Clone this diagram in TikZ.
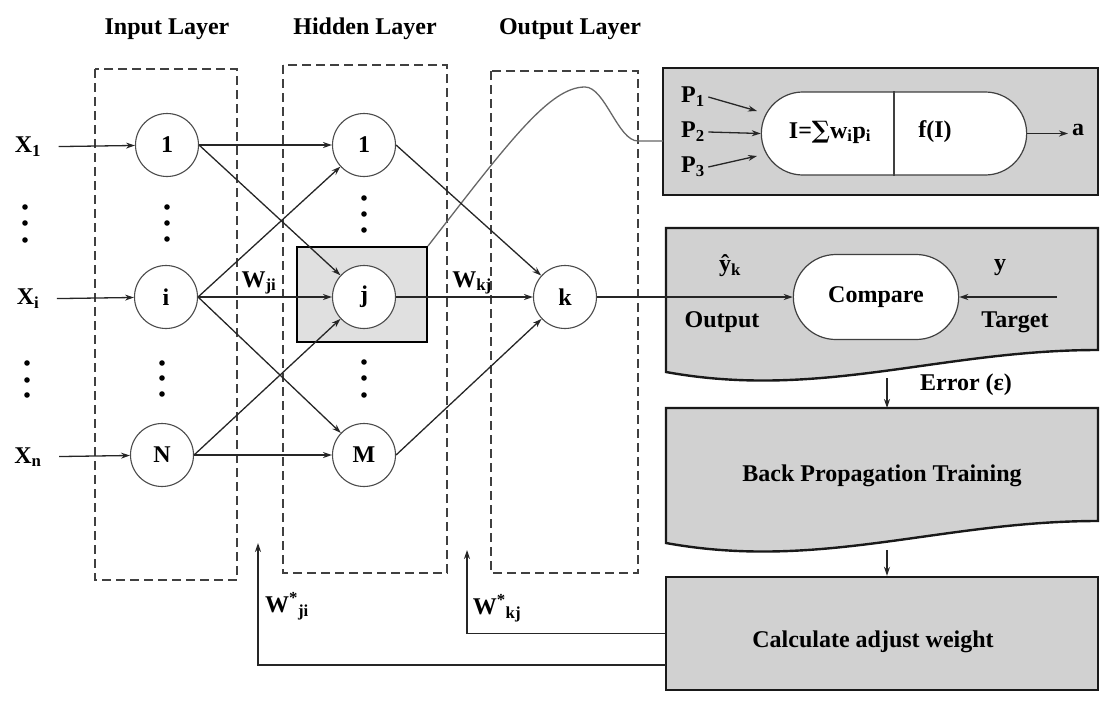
\documentclass[tikz,border=0pt]{standalone}
\usepackage{fontspec}
\setmainfont{Liberation Serif}
\newfontfamily\symfont{DejaVu Serif}
\usetikzlibrary{arrows.meta,shapes.misc,calc}

\begin{document}
\begin{tikzpicture}[x=1pt, y=-1pt, >={Stealth[length=9pt,width=6pt]},
                    every node/.style={font=\fontsize{24}{28}\selectfont\bfseries},
                    wire/.style={black!85, line width=1.3pt},
                    layer/.style={draw=black!75, line width=1.4pt, dash pattern=on 9pt off 5pt},
                    neuron/.style={circle, draw=black!70, fill=white, line width=1.1pt, minimum size=63pt, inner sep=0pt},
                    graybox/.style={draw=black!90, fill=black!18, line width=2.4pt},
                    capsule/.style={rounded rectangle, draw=black!75, fill=white, line width=1.2pt}]

\useasboundingbox (0,0) rectangle (1100,702);

\node[anchor=base] (hin) at (167,34) {Input Layer};
\node[anchor=base] (hhid) at (365,34) {Hidden Layer};
\node[anchor=base] (hout) at (570,34) {Output Layer};

\draw[layer] (95,69) rectangle (237,580);
\draw[layer] (283,65) rectangle (447,573);
\draw[layer] (491,71) rectangle (638,573);

\node[graybox, minimum width=435pt, minimum height=127pt] (nbox) at (880.5,131.5) {};
\draw[graybox] (666,228) -- (1098,228) -- (1098,350) .. controls (940,350) and (820,400) .. (666,372) -- cycle;
\draw[graybox] (666,408) -- (1098,408) -- (1098,521) .. controls (940,521) and (820,571) .. (666,543) -- cycle;
\node[graybox, minimum width=432pt, minimum height=113pt] (calc) at (882,633.5) {};
\node[draw=black, fill=black!12, line width=2pt, minimum width=130pt, minimum height=95pt] (jbox) at (362,294.5) {};

\node (x1) at (28,147) {X\textsubscript{1}};
\node (xi) at (28,299) {X\textsubscript{i}};
\node (xn) at (28,457) {X\textsubscript{n}};

\node[neuron] (in1) at (167,145) {1};
\node[neuron] (ini) at (166,297) {i};
\node[neuron] (inN) at (162,455) {N};
\node[neuron] (h1) at (364,145) {1};
\node[neuron] (hj) at (364,297) {j};
\node[neuron] (hM) at (364,455) {M};
\node[neuron] (k) at (565,297) {k};

\foreach \x/\y in {25/207, 25/223, 25/240, 27/363, 27/380, 27/395,
                   167/207, 167/223, 167/239, 162/363, 162/378, 162/394,
                   364/198, 364/214, 364/230, 364/362, 364/378, 364/395}
  \fill (\x,\y) circle (2.8pt);

\node (wji) at (259,283) {W\textsubscript{ji}};
\node (wkj) at (472,283) {W\textsubscript{kj}};

\coordinate (tap) at (663,141);
\draw[black!60, line width=1.3pt] (jbox.north east) .. controls (510,140) and (550,87) .. (585,87)
      .. controls (605,87) and (618,141) .. (638,141) -- (tap);

\node[capsule, minimum width=272pt, minimum height=83pt] (cell) at (894,133.5) {};
\draw[black!75, line width=1.2pt] (cell.north) -- (cell.south);
\node (sumtxt) at (830,132) {I={\symfont\bfseries ∑}w\textsubscript{i}p\textsubscript{i}};
\node (acttxt) at (935,132) {f(I)};
\node (p1) at (693,97) {P\textsubscript{1}};
\node (p2) at (693,132) {P\textsubscript{2}};
\node (p3) at (693,167) {P\textsubscript{3}};
\node (aout) at (1078,130) {a};
\coordinate (aend) at (1068,133.5);
\coordinate (p1end) at (757,111);
\coordinate (p3end) at (757,156);

\node[capsule, minimum width=172pt, minimum height=85pt] (cmp) at (876,297) {Compare};
\node (yhat) at (730,266) {ŷ\textsubscript{k}};
\node (outlbl) at (722,322) {Output};
\node (ytgt) at (1000,268) {y};
\node (tgtlbl) at (1015,322) {Target};
\coordinate (tgt) at (1057,297);

\node (err) at (966,385) {Error (ε)};
\node (bp) at (882,476) {Back Propagation Training};
\node (calctxt) at (873,642) {Calculate adjust weight};

\node (wsji) at (287,606) {W\textsuperscript{*}\textsubscript{ji}};
\node (wskj) at (497,608) {W\textsuperscript{*}\textsubscript{kj}};

\path[->, wire]
(x1) edge[shorten <=14pt] (in1)
(xi) edge[shorten <=14pt] (ini)
(xn) edge[shorten <=14pt] (inN)
(in1.east) edge (h1)
(in1.east) edge (hj)
(ini.east) edge (h1)
(ini.east) edge (hj)
(ini.east) edge (hM)
(inN.east) edge (hj)
(inN.east) edge (hM)
(h1.east) edge (k)
(hj.east) edge (k)
(hM.east) edge (k)
(k.east) edge (cmp.west)
(tgt) edge (cmp.east)
(p1.east) edge (p1end)
(p2.east) edge (cell.west)
(p3.east) edge (p3end)
(cell.east) edge (aend);

\coordinate (errtop) at (887,378);
\coordinate (bpbot) at (887,550);
\coordinate (fbji) at (666,665);
\coordinate (tipji) at (258,543);
\coordinate (tipkj) at (467,550);
\draw[->, wire] (errtop) -- (887,408);
\draw[->, wire] (bpbot) -- (bpbot |- calc.north);
\draw[->, wire] (calc.west) -| (tipkj);
\draw[->, wire] (fbji) -| (tipji);
\end{tikzpicture}
\end{document}
